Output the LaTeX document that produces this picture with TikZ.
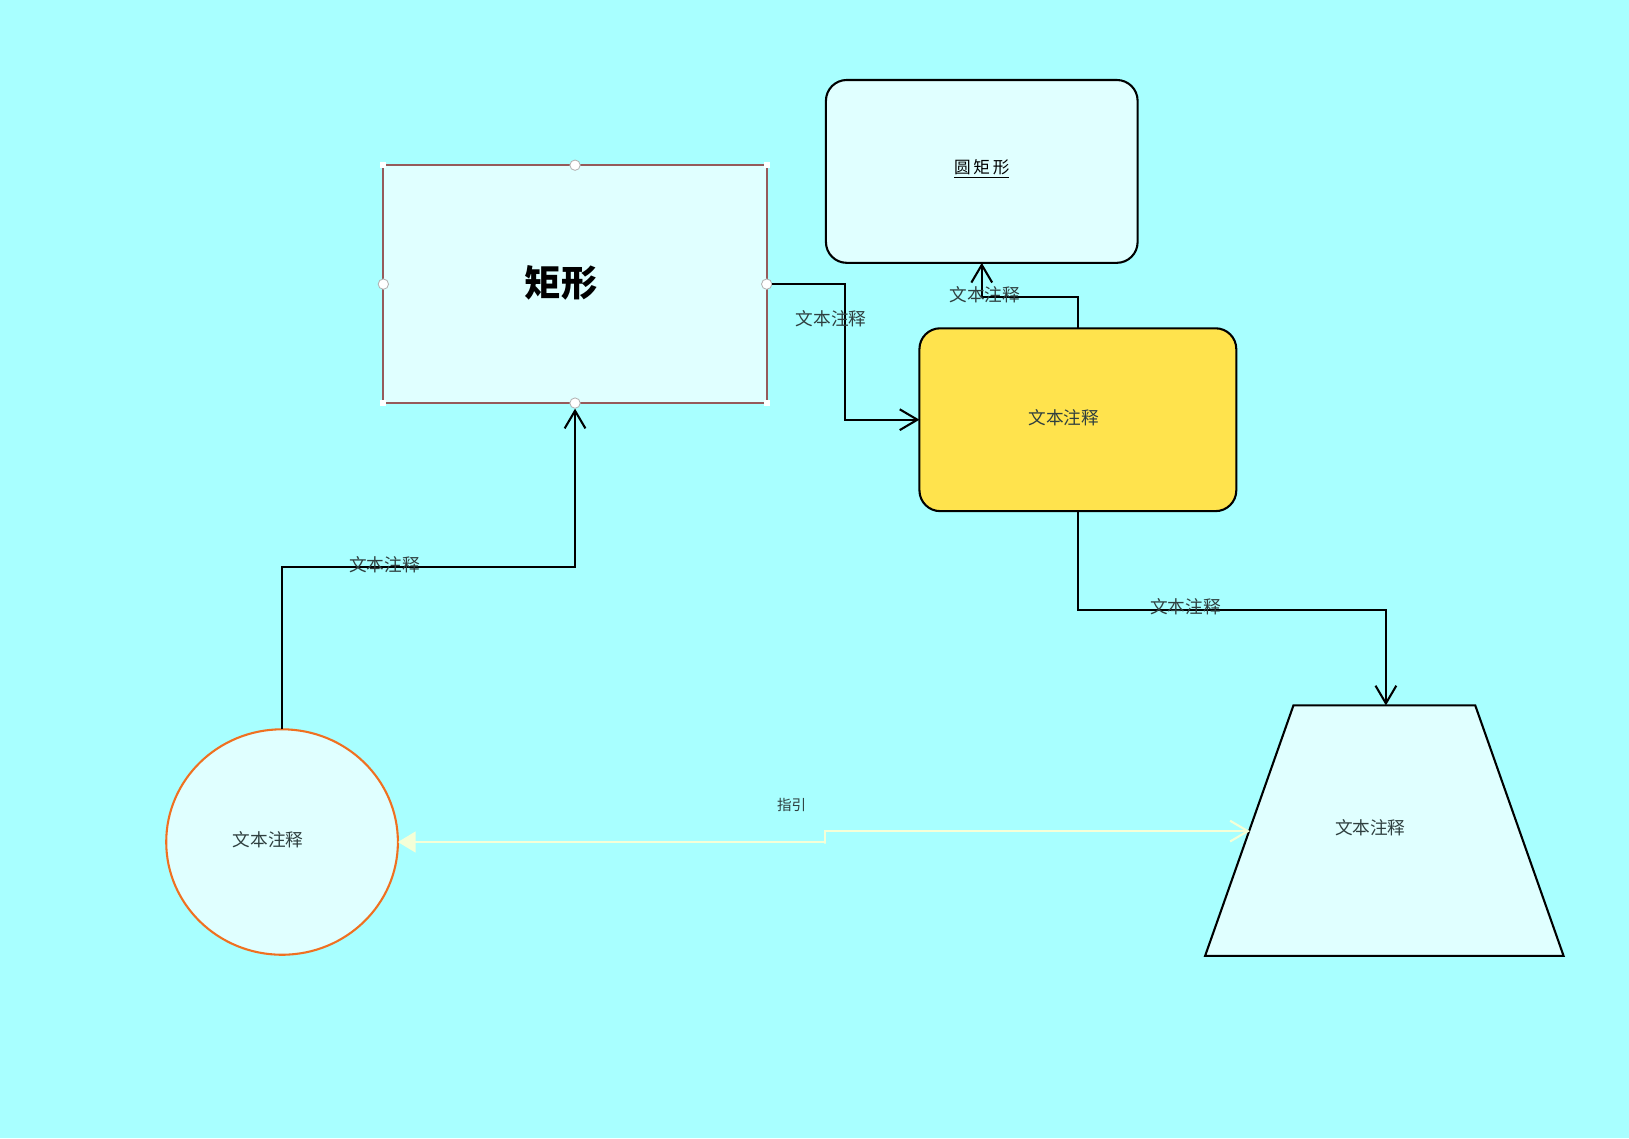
\documentclass[tikz,border=0pt]{standalone}
\usepackage{fontspec}
\newfontfamily\cjk{Noto Sans CJK SC}
\usetikzlibrary{arrows.meta,shapes.geometric}
\definecolor{bgc}{RGB}{168,255,255}
\definecolor{lightc}{RGB}{224,255,255}
\definecolor{yelc}{RGB}{255,227,77}
\definecolor{brownc}{RGB}{150,90,90}
\definecolor{orangec}{RGB}{240,112,32}
\definecolor{creamc}{RGB}{245,255,215}
\definecolor{txtc}{RGB}{47,63,63}
\tikzset{
  shapebox/.style={draw=black, fill=lightc, line width=1pt, inner sep=0pt, outer sep=0pt},
  lbl/.style={font=\cjk\fontsize{8.5}{10}\selectfont, text=txtc, inner sep=0pt},
  conn/.style={draw=black, line width=1pt, -{Straight Barb[length=8.5pt,width=10pt,line width=1pt]}},
  guide/.style={draw=creamc, line width=1pt},
  handlesq/.style={fill=white, draw=none, minimum size=3pt, inner sep=0pt},
  handlecirc/.style={circle, fill=white, draw=gray!60, line width=0.4pt, minimum size=5pt, inner sep=0pt}
}
\begin{document}
\begin{tikzpicture}[x=0.5pt,y=-0.5pt]
\fill[bgc] (0,0) rectangle (1568,1095.4);
\useasboundingbox (0,0) rectangle (1568,1095.4);

% shapes
\node[shapebox, draw=brownc, minimum width=184.5pt, minimum height=114.5pt] (rect) at (553.5,273.5) {};
\node[shapebox, rounded corners=10pt, minimum width=150pt, minimum height=88pt] (rr) at (945,165) {};
\node[shapebox, fill=yelc, rounded corners=10pt, minimum width=152.5pt, minimum height=88pt] (yel) at (1037.5,404) {};
\node[shapebox, ellipse, draw=orangec, minimum width=111.5pt, minimum height=108.5pt] (circ) at (271.5,810.5) {};
% trapezoid
\coordinate (tA) at (1245,679);
\coordinate (tB) at (1420,679);
\coordinate (tC) at (1505,920);
\coordinate (tD) at (1160,920);
\draw[shapebox] (tA) -- (tB) -- (tC) -- (tD) -- cycle;
\coordinate (trapTop) at (1334,679);
\coordinate (trapL) at (1203,800);

% handles of the selected rectangle
\node[handlesq] (h1) at (rect.north west) {};
\node[handlesq] (h2) at (rect.north east) {};
\node[handlesq] (h3) at (rect.south west) {};
\node[handlesq] (h4) at (rect.south east) {};
\node[handlecirc] (h5) at (rect.north) {};
\node[handlecirc] (h6) at (rect.west) {};
\node[handlecirc] (h7) at (rect.east) {};
\node[handlecirc] (h8) at (rect.south) {};

% texts in shapes
\node[inner sep=0pt, font=\cjk\bfseries\fontsize{17.5}{18}\selectfont] (trect) at (540,272) {矩形};
\node[inner sep=0pt, font=\cjk\fontsize{8}{9}\selectfont] (trr) at (945,163) {\underline{圆\,矩\,形}};
\node[lbl] (tyel) at (1024,402) {文本注释};
\node[lbl] (tcirc) at (258,808) {文本注释};
\node[lbl] (ttrap) at (1319,797) {文本注释};

% connectors
\coordinate (c1) at (271.5,546);
\draw[conn] (circ.north) |- (c1) -| (h8.south);
\coordinate (c2) at (813,404);
\draw[conn] (h7.east) -| (c2) -- (yel.west);
\coordinate (c3) at (945,286);
\draw[conn] (yel.north) |- (c3) -- (rr.south);
\coordinate (c4) at (1334,587);
\draw[conn] (yel.south) |- (c4) -- (trapTop);
\coordinate (k2) at (794,812);
\draw[guide, {Straight Barb[length=8.5pt,width=10pt,line width=1pt]}-{Triangle[length=8.5pt,width=10pt]}] (trapL) -| (k2) |- (circ.east);

% connector labels
\node[lbl] (l1) at (370,544) {文本注释};
\node[lbl] (l2) at (800,307) {文本注释};
\node[lbl] (l3) at (948,284) {文本注释};
\node[lbl] (l4) at (1141,584) {文本注释};
\node[inner sep=0pt, font=\cjk\fontsize{7}{8}\selectfont, text=txtc] (l5) at (762,775) {指引};
\end{tikzpicture}
\end{document}
